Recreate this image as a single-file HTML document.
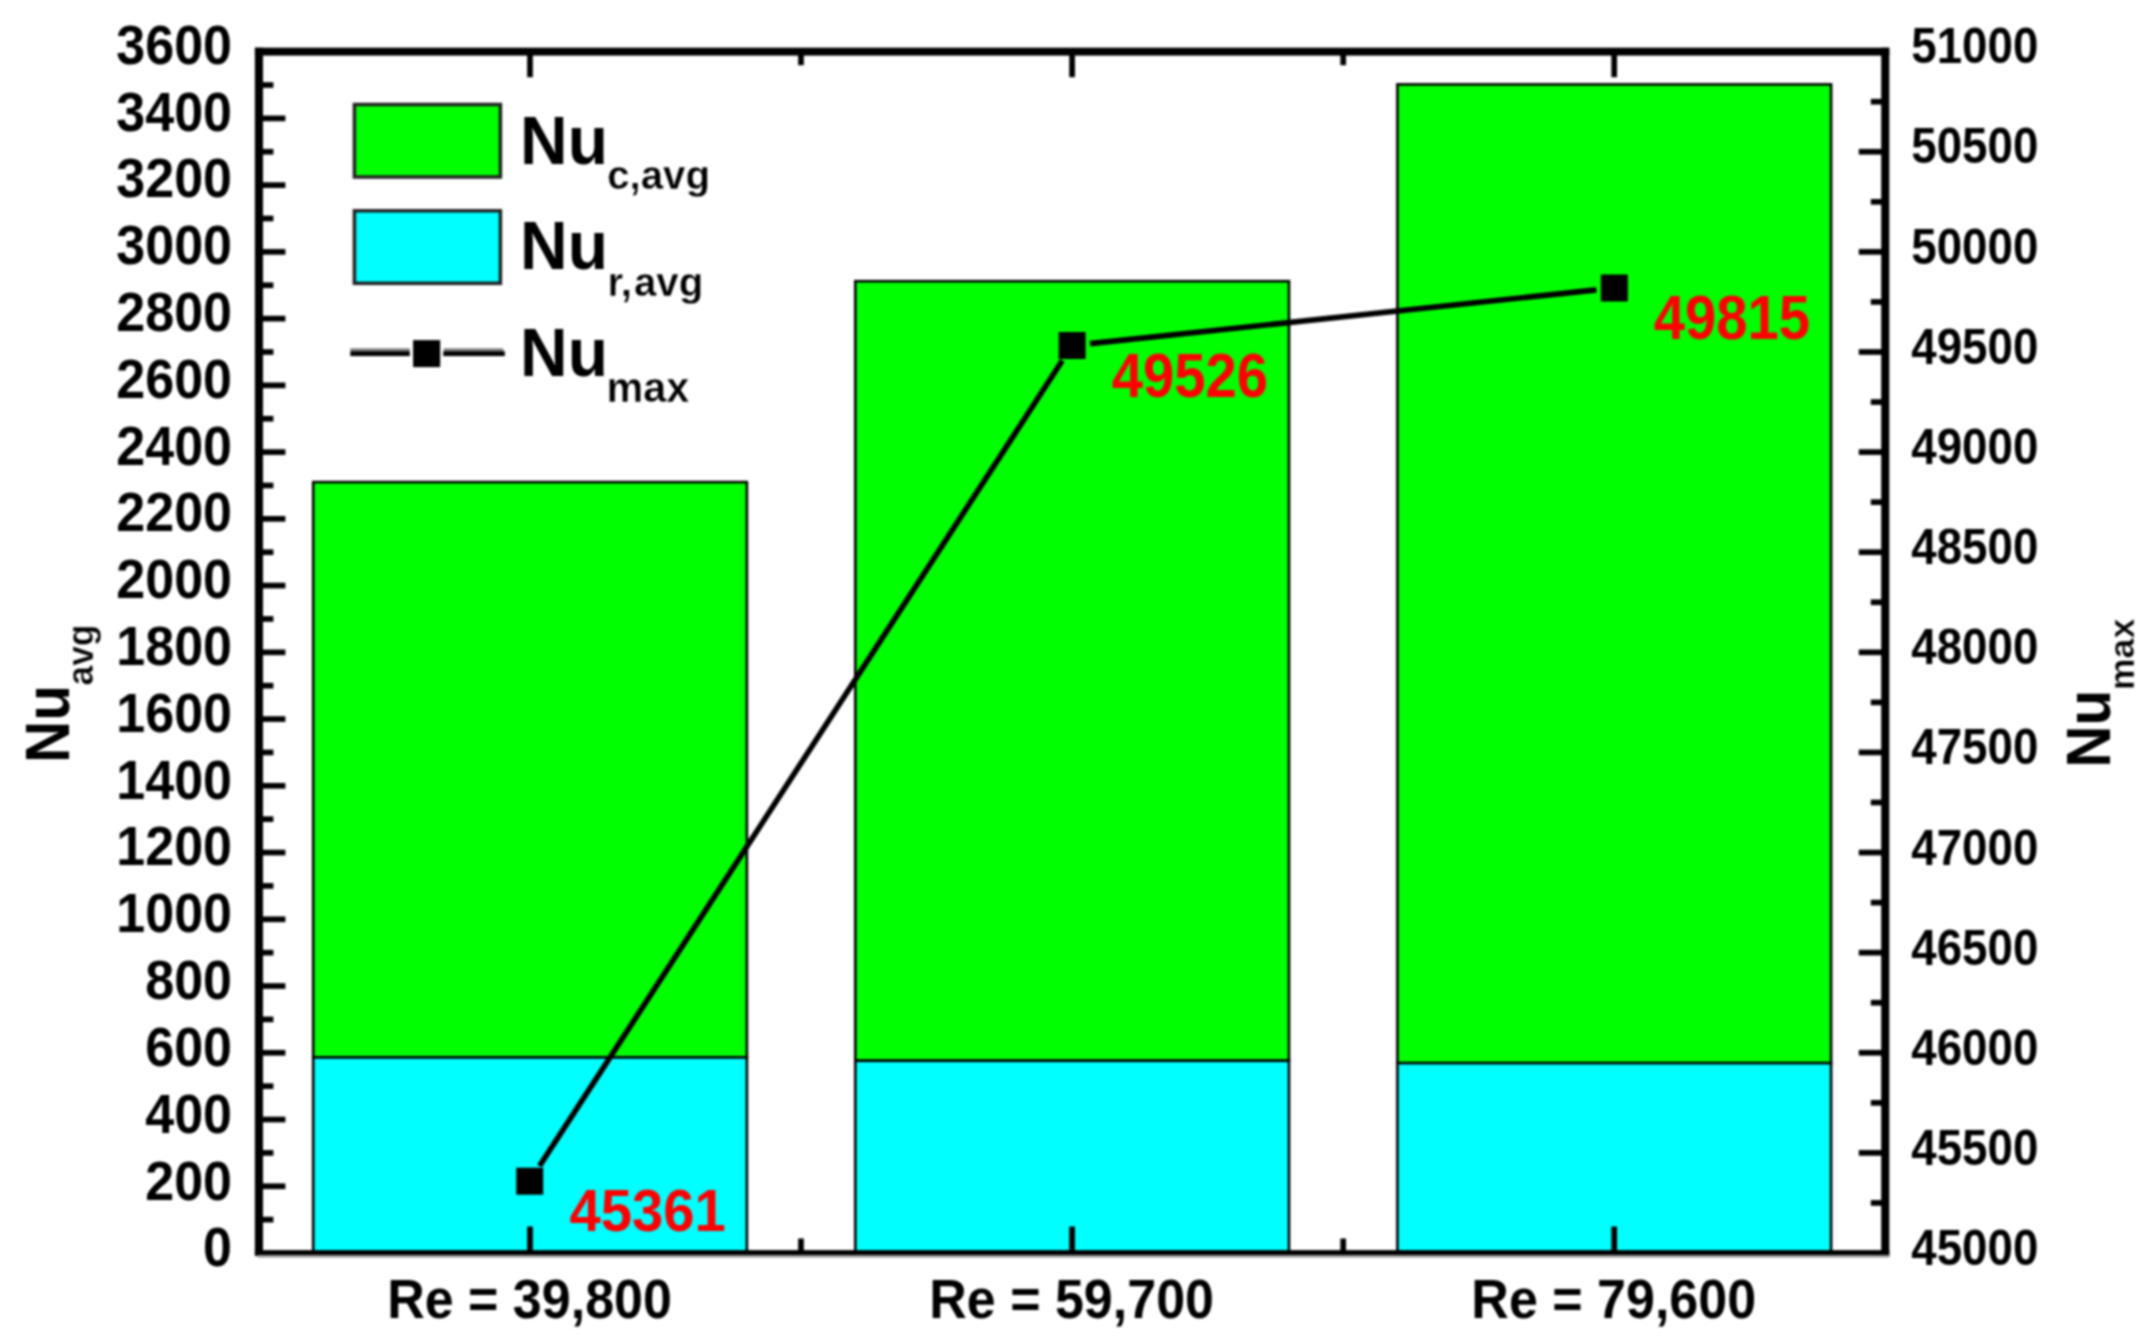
<!DOCTYPE html>
<html lang="en"><head><meta charset="utf-8"><title>Nusselt number chart</title>
<style>html,body{margin:0;padding:0;background:#fff;}svg{display:block;filter:blur(0.9px);}text{font-family:"Liberation Sans", sans-serif;font-weight:bold;}</style></head><body>
<svg width="2153" height="1342" viewBox="0 0 2153 1342">
<rect x="0" y="0" width="2153" height="1342" fill="#fff"/>
<g stroke="#000" stroke-width="2.6">
<rect x="313.2" y="482.1" width="433.7" height="575.3" fill="#00ff00"/>
<rect x="313.2" y="1057.4" width="433.7" height="195.6" fill="#00ffff"/>
<rect x="855.3" y="281.2" width="433.7" height="779.5" fill="#00ff00"/>
<rect x="855.3" y="1060.8" width="433.7" height="192.2" fill="#00ffff"/>
<rect x="1397.4" y="84.4" width="433.7" height="978.8" fill="#00ff00"/>
<rect x="1397.4" y="1063.1" width="433.7" height="189.9" fill="#00ffff"/>
</g>
<g stroke="#000" stroke-width="5.7" fill="none">
<line x1="258.9" y1="1219.63" x2="273.4" y2="1219.63"/>
<line x1="258.9" y1="1186.26" x2="285.4" y2="1186.26"/>
<line x1="258.9" y1="1152.89" x2="273.4" y2="1152.89"/>
<line x1="258.9" y1="1119.52" x2="285.4" y2="1119.52"/>
<line x1="258.9" y1="1086.15" x2="273.4" y2="1086.15"/>
<line x1="258.9" y1="1052.78" x2="285.4" y2="1052.78"/>
<line x1="258.9" y1="1019.40" x2="273.4" y2="1019.40"/>
<line x1="258.9" y1="986.03" x2="285.4" y2="986.03"/>
<line x1="258.9" y1="952.66" x2="273.4" y2="952.66"/>
<line x1="258.9" y1="919.29" x2="285.4" y2="919.29"/>
<line x1="258.9" y1="885.92" x2="273.4" y2="885.92"/>
<line x1="258.9" y1="852.55" x2="285.4" y2="852.55"/>
<line x1="258.9" y1="819.18" x2="273.4" y2="819.18"/>
<line x1="258.9" y1="785.81" x2="285.4" y2="785.81"/>
<line x1="258.9" y1="752.44" x2="273.4" y2="752.44"/>
<line x1="258.9" y1="719.07" x2="285.4" y2="719.07"/>
<line x1="258.9" y1="685.70" x2="273.4" y2="685.70"/>
<line x1="258.9" y1="652.33" x2="285.4" y2="652.33"/>
<line x1="258.9" y1="618.95" x2="273.4" y2="618.95"/>
<line x1="258.9" y1="585.58" x2="285.4" y2="585.58"/>
<line x1="258.9" y1="552.21" x2="273.4" y2="552.21"/>
<line x1="258.9" y1="518.84" x2="285.4" y2="518.84"/>
<line x1="258.9" y1="485.47" x2="273.4" y2="485.47"/>
<line x1="258.9" y1="452.10" x2="285.4" y2="452.10"/>
<line x1="258.9" y1="418.73" x2="273.4" y2="418.73"/>
<line x1="258.9" y1="385.36" x2="285.4" y2="385.36"/>
<line x1="258.9" y1="351.99" x2="273.4" y2="351.99"/>
<line x1="258.9" y1="318.62" x2="285.4" y2="318.62"/>
<line x1="258.9" y1="285.25" x2="273.4" y2="285.25"/>
<line x1="258.9" y1="251.88" x2="285.4" y2="251.88"/>
<line x1="258.9" y1="218.50" x2="273.4" y2="218.50"/>
<line x1="258.9" y1="185.13" x2="285.4" y2="185.13"/>
<line x1="258.9" y1="151.76" x2="273.4" y2="151.76"/>
<line x1="258.9" y1="118.39" x2="285.4" y2="118.39"/>
<line x1="258.9" y1="85.02" x2="273.4" y2="85.02"/>
<line x1="1885.2" y1="1202.94" x2="1870.8" y2="1202.94"/>
<line x1="1885.2" y1="1152.89" x2="1858.8" y2="1152.89"/>
<line x1="1885.2" y1="1102.83" x2="1870.8" y2="1102.83"/>
<line x1="1885.2" y1="1052.78" x2="1858.8" y2="1052.78"/>
<line x1="1885.2" y1="1002.72" x2="1870.8" y2="1002.72"/>
<line x1="1885.2" y1="952.66" x2="1858.8" y2="952.66"/>
<line x1="1885.2" y1="902.61" x2="1870.8" y2="902.61"/>
<line x1="1885.2" y1="852.55" x2="1858.8" y2="852.55"/>
<line x1="1885.2" y1="802.49" x2="1870.8" y2="802.49"/>
<line x1="1885.2" y1="752.44" x2="1858.8" y2="752.44"/>
<line x1="1885.2" y1="702.38" x2="1870.8" y2="702.38"/>
<line x1="1885.2" y1="652.33" x2="1858.8" y2="652.33"/>
<line x1="1885.2" y1="602.27" x2="1870.8" y2="602.27"/>
<line x1="1885.2" y1="552.21" x2="1858.8" y2="552.21"/>
<line x1="1885.2" y1="502.16" x2="1870.8" y2="502.16"/>
<line x1="1885.2" y1="452.10" x2="1858.8" y2="452.10"/>
<line x1="1885.2" y1="402.04" x2="1870.8" y2="402.04"/>
<line x1="1885.2" y1="351.99" x2="1858.8" y2="351.99"/>
<line x1="1885.2" y1="301.93" x2="1870.8" y2="301.93"/>
<line x1="1885.2" y1="251.88" x2="1858.8" y2="251.88"/>
<line x1="1885.2" y1="201.82" x2="1870.8" y2="201.82"/>
<line x1="1885.2" y1="151.76" x2="1858.8" y2="151.76"/>
<line x1="1885.2" y1="101.71" x2="1870.8" y2="101.71"/>
<line x1="530.0" y1="1253.0" x2="530.0" y2="1226.5"/>
<line x1="530.0" y1="51.6" x2="530.0" y2="77.2"/>
<line x1="801.0" y1="1253.0" x2="801.0" y2="1238.5"/>
<line x1="801.0" y1="51.6" x2="801.0" y2="65.2"/>
<line x1="1072.1" y1="1253.0" x2="1072.1" y2="1226.5"/>
<line x1="1072.1" y1="51.6" x2="1072.1" y2="77.2"/>
<line x1="1343.2" y1="1253.0" x2="1343.2" y2="1238.5"/>
<line x1="1343.2" y1="51.6" x2="1343.2" y2="65.2"/>
<line x1="1614.2" y1="1253.0" x2="1614.2" y2="1226.5"/>
<line x1="1614.2" y1="51.6" x2="1614.2" y2="77.2"/>
</g>
<g fill="#000">
<rect x="254.9" y="47.7" width="8.1" height="1208.3"/>
<rect x="1881.2" y="47.7" width="8.1" height="1208.3"/>
<rect x="254.9" y="47.7" width="1634.4" height="7.9"/>
<rect x="254.9" y="1250.1" width="1634.4" height="4.9"/>
<rect x="257.5" y="1255" width="1631.8" height="2.6" fill="#999"/>
</g>
<g stroke="#000" stroke-width="5.6" stroke-linecap="butt">
<line x1="539.5" y1="1166.1" x2="1062.3" y2="360.6"/>
<line x1="1090.0" y1="343.6" x2="1596.4" y2="289.9"/>
</g>
<rect x="516.2" y="1167.7" width="27" height="27" fill="#000"/>
<rect x="1058.6" y="332.0" width="27" height="27" fill="#000"/>
<rect x="1600.8" y="274.5" width="27" height="27" fill="#000"/>
<text transform="translate(569.5,1230.5) scale(1.000,1.070)" font-size="56.2" fill="#ff0000">45361</text>
<text transform="translate(1111.7,397.0) scale(1.000,1.130)" font-size="56.2" fill="#ff0000">49526</text>
<text transform="translate(1653.7,339.4) scale(1.000,1.130)" font-size="56.2" fill="#ff0000">49815</text>
<text transform="translate(232.0,1266.3) scale(1.000,1.050)" font-size="52.0" text-anchor="end">0</text>
<text transform="translate(232.0,1199.5) scale(1.000,1.050)" font-size="52.0" text-anchor="end">200</text>
<text transform="translate(232.0,1132.7) scale(1.000,1.050)" font-size="52.0" text-anchor="end">400</text>
<text transform="translate(232.0,1065.9) scale(1.000,1.050)" font-size="52.0" text-anchor="end">600</text>
<text transform="translate(232.0,999.0) scale(1.000,1.050)" font-size="52.0" text-anchor="end">800</text>
<text transform="translate(232.0,932.2) scale(1.000,1.050)" font-size="52.0" text-anchor="end">1000</text>
<text transform="translate(232.0,865.4) scale(1.000,1.050)" font-size="52.0" text-anchor="end">1200</text>
<text transform="translate(232.0,798.6) scale(1.000,1.050)" font-size="52.0" text-anchor="end">1400</text>
<text transform="translate(232.0,731.8) scale(1.000,1.050)" font-size="52.0" text-anchor="end">1600</text>
<text transform="translate(232.0,665.0) scale(1.000,1.050)" font-size="52.0" text-anchor="end">1800</text>
<text transform="translate(232.0,598.2) scale(1.000,1.050)" font-size="52.0" text-anchor="end">2000</text>
<text transform="translate(232.0,531.4) scale(1.000,1.050)" font-size="52.0" text-anchor="end">2200</text>
<text transform="translate(232.0,464.6) scale(1.000,1.050)" font-size="52.0" text-anchor="end">2400</text>
<text transform="translate(232.0,397.8) scale(1.000,1.050)" font-size="52.0" text-anchor="end">2600</text>
<text transform="translate(232.0,330.9) scale(1.000,1.050)" font-size="52.0" text-anchor="end">2800</text>
<text transform="translate(232.0,264.1) scale(1.000,1.050)" font-size="52.0" text-anchor="end">3000</text>
<text transform="translate(232.0,197.3) scale(1.000,1.050)" font-size="52.0" text-anchor="end">3200</text>
<text transform="translate(232.0,130.5) scale(1.000,1.050)" font-size="52.0" text-anchor="end">3400</text>
<text transform="translate(232.0,63.7) scale(1.000,1.050)" font-size="52.0" text-anchor="end">3600</text>
<text transform="translate(1911.3,1265.1) scale(1.000,1.100)" font-size="45.7">45000</text>
<text transform="translate(1911.3,1165.0) scale(1.000,1.100)" font-size="45.7">45500</text>
<text transform="translate(1911.3,1064.8) scale(1.000,1.100)" font-size="45.7">46000</text>
<text transform="translate(1911.3,964.6) scale(1.000,1.100)" font-size="45.7">46500</text>
<text transform="translate(1911.3,864.5) scale(1.000,1.100)" font-size="45.7">47000</text>
<text transform="translate(1911.3,764.3) scale(1.000,1.100)" font-size="45.7">47500</text>
<text transform="translate(1911.3,664.2) scale(1.000,1.100)" font-size="45.7">48000</text>
<text transform="translate(1911.3,564.0) scale(1.000,1.100)" font-size="45.7">48500</text>
<text transform="translate(1911.3,463.8) scale(1.000,1.100)" font-size="45.7">49000</text>
<text transform="translate(1911.3,363.7) scale(1.000,1.100)" font-size="45.7">49500</text>
<text transform="translate(1911.3,263.5) scale(1.000,1.100)" font-size="45.7">50000</text>
<text transform="translate(1911.3,163.4) scale(1.000,1.100)" font-size="45.7">50500</text>
<text transform="translate(1911.3,63.2) scale(1.000,1.100)" font-size="45.7">51000</text>
<text transform="translate(529.5,1317.6) scale(1.000,1.070)" font-size="52.0" text-anchor="middle">Re = 39,800</text>
<text transform="translate(1071.6,1317.6) scale(1.000,1.070)" font-size="52.0" text-anchor="middle">Re = 59,700</text>
<text transform="translate(1613.7,1317.6) scale(1.000,1.070)" font-size="52.0" text-anchor="middle">Re = 79,600</text>
<rect x="354.4" y="104.5" width="146" height="72.5" fill="#00ff00" stroke="#222" stroke-width="3.5"/>
<rect x="354.4" y="210.8" width="146" height="72.5" fill="#00ffff" stroke="#222" stroke-width="3.5"/>
<g fill="#808080"><rect x="350.3" y="348.3" width="59.5" height="3"/><rect x="443.8" y="348.3" width="59.5" height="3"/></g><g fill="#000"><rect x="350.3" y="351.2" width="59.5" height="4.9"/><rect x="443.2" y="351.2" width="61.6" height="4.9"/></g>
<rect x="413.1" y="340.1" width="27.1" height="27" fill="#000"/>
<text transform="translate(520.1,164.2) scale(1.000,1.035)" font-size="66.0">Nu</text>
<text transform="translate(607.2,189.0) scale(1.000,1.000)" font-size="40.2" stroke="#fff" stroke-width="0.4">c,avg</text>
<text transform="translate(520.1,269.3) scale(1.000,1.035)" font-size="66.0">Nu</text>
<text transform="translate(607.4,296.0) scale(1.000,1.000)" font-size="40.2" stroke="#fff" stroke-width="0.4">r,<tspan x="26.6">avg</tspan></text>
<text transform="translate(520.1,375.6) scale(1.000,1.035)" font-size="66.0">Nu</text>
<text transform="translate(606.5,402.4) scale(1.000,1.040)" font-size="41.4" stroke="#fff" stroke-width="0.4">max</text>
<text transform="translate(69.2,763.0) rotate(-90) scale(1,1.085)" font-size="58.5">Nu</text>
<text transform="translate(93.2,685.5) rotate(-90) scale(1,1.050)" font-size="35.4" stroke="#fff" stroke-width="0.4">avg</text>
<text transform="translate(2110.3,767.7) rotate(-90) scale(1,1.075)" font-size="58.5">Nu</text>
<text transform="translate(2134.0,690.2) rotate(-90) scale(1,1.000)" font-size="35.7" stroke="#fff" stroke-width="0.4">max</text>
</svg></body></html>
